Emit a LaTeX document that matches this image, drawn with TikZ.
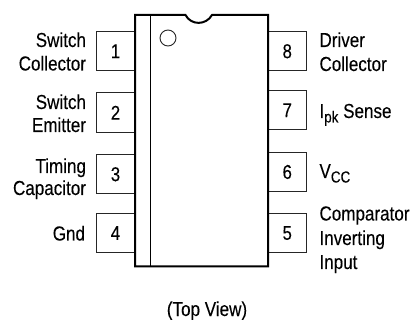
\documentclass[tikz,border=0pt]{standalone}
\usepackage{fontspec}
\setmainfont[FakeStretch=0.84,FakeBold=0.15]{Liberation Sans}
\newcommand{\lowsub}[1]{\raisebox{-4.5pt}{\fontsize{16}{16}\selectfont #1}}
\tikzset{
  pinbox/.style={draw=black!85,line width=1pt,minimum width=39pt,minimum height=39.5pt,inner sep=0pt,outer sep=0pt,font=\fontsize{20}{20}\selectfont},
  lbl/.style={inner sep=0pt,outer sep=0pt,font=\fontsize{20.3}{24}\selectfont},
  lleft/.style={lbl,anchor=base east},
  lright/.style={lbl,anchor=base west},
  body/.style={line width=2pt,line cap=butt,line join=miter}
}
\begin{document}
\begin{tikzpicture}[x=1pt,y=-1pt]
\useasboundingbox (0,0) rectangle (412,320);
% pins
\node[pinbox] (p1) at (115.5,51.25) {1};
\node[pinbox] (p2) at (115.5,112.75) {2};
\node[pinbox] (p3) at (115.5,174.25) {3};
\node[pinbox] (p4) at (115.5,233) {4};
\node[pinbox] (p8) at (287.25,51.25) {8};
\node[pinbox] (p7) at (287.25,110.25) {7};
\node[pinbox] (p6) at (287.25,172) {6};
\node[pinbox] (p5) at (287.25,233) {5};
% package body
\draw[body,fill=white] (135,15) -- (185.5,15) .. controls (191,25.5) and (206,25.5) .. (212,15) -- (268,15) -- (268,266.5) -- (135,266.5) -- cycle;
\draw[line width=1pt] (150,15) -- (150,266.5);
\node[draw=black!85,line width=0.9pt,circle,minimum size=16pt,inner sep=0pt] (dot) at (168,38) {};
% labels
\node[lleft] (a1) at (86,47) {Switch};
\node[lleft] (a2) at (86,70.5) {Collector};
\node[lleft] (b1) at (86,109) {Switch};
\node[lleft] (b2) at (86,132) {Emitter};
\node[lleft] (c1) at (86,173) {Timing};
\node[lleft] (c2) at (86,195) {Capacitor};
\node[lleft] (d1) at (85,240.5) {Gnd};
\node[lright] (e1) at (319.5,47) {Driver};
\node[lright] (e2) at (319.5,71) {Collector};
\node[lright] (f1) at (319.5,118) {I\lowsub{pk} Sense};
\node[lright] (g1) at (319.5,178) {V\lowsub{CC}};
\node[lright] (h1) at (319.5,220.5) {Comparator};
\node[lright] (h2) at (319.5,245) {Inverting};
\node[lright] (h3) at (319.5,269) {Input};
\node[lbl,anchor=base] (t) at (207,316) {(Top View)};
\end{tikzpicture}
\end{document}
